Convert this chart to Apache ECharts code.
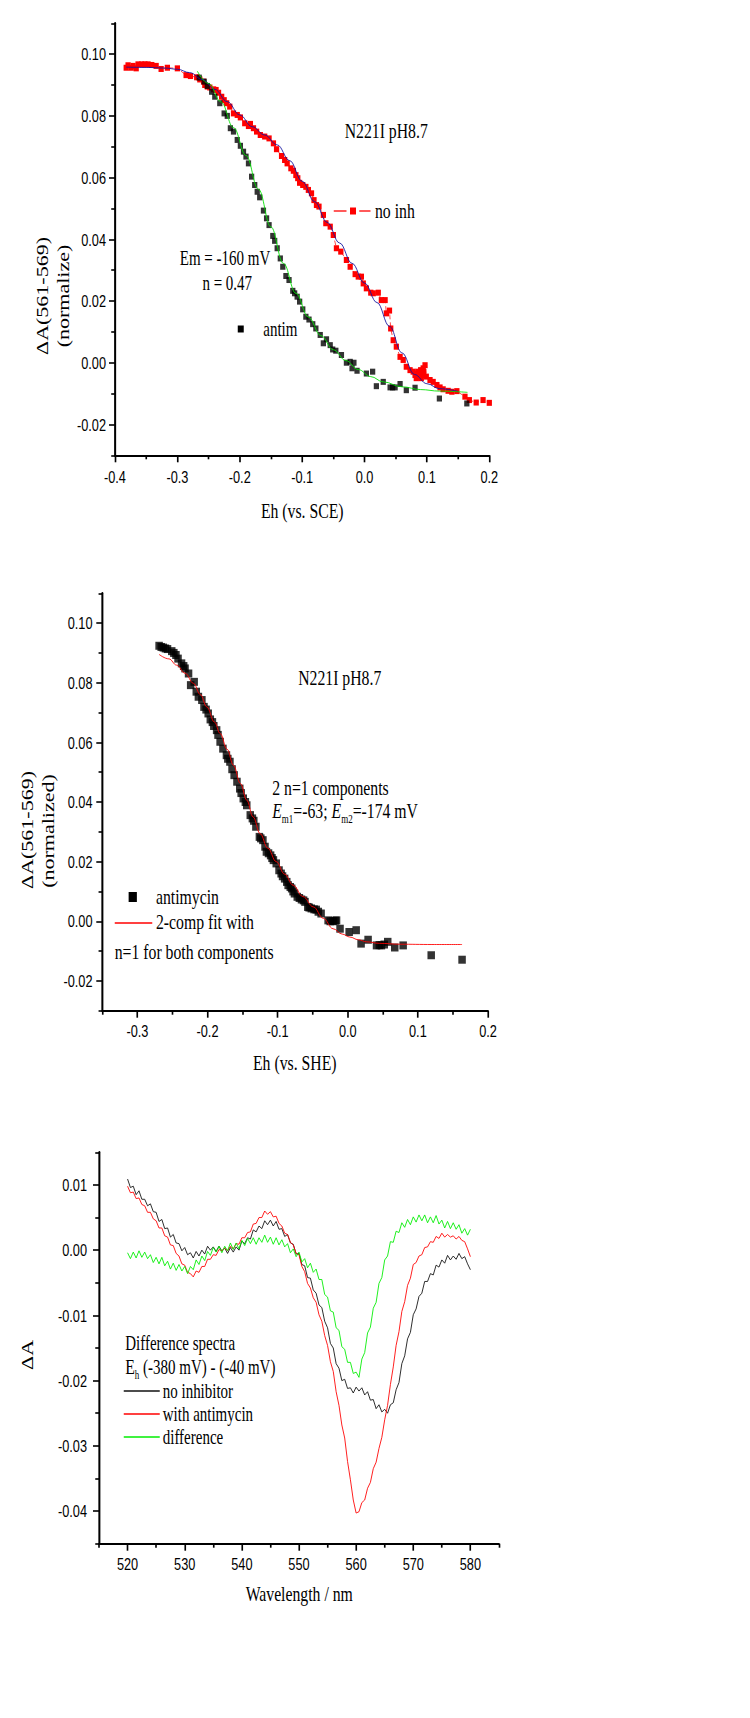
<!DOCTYPE html>
<html><head><meta charset="utf-8">
<script src="https://cdn.jsdelivr.net/npm/echarts@6/dist/echarts.min.js"></script>
<style>
html,body{margin:0;padding:0;overflow:hidden;background:#fff;width:750px;height:1718px;}
#wrap{width:750px;height:1718px;overflow:hidden;position:relative;background:#fff;}
#chart{width:1000px;height:1718px;transform:scaleX(0.75);transform-origin:0 0;position:absolute;left:0;top:0;}
</style></head><body><div id="wrap"><div id="chart"></div></div>
<script>
// ---------- Panel 1 : Eh (vs. SCE) ----------
const p1XTicks = [-0.4,-0.3,-0.2,-0.1,0,0.1,0.2];
const p1XMinor = [-0.35,-0.25,-0.15,-0.05,0.05,0.15];
const p1YTicks = [-0.02,0,0.02,0.04,0.06,0.08,0.10];
const p1YMinor = [-0.03,-0.01,0.01,0.03,0.05,0.07,0.09,0.11];

const noInhPoints = [[-0.382,0.0956],[-0.379,0.0964],[-0.374,0.0956],[-0.371,0.0962],[-0.366,0.0954],[-0.363,0.0967],[-0.357,0.0967],[-0.352,0.0967],[-0.347,0.0967],[-0.341,0.0965],[-0.334,0.0962],[-0.326,0.0952],[-0.316,0.0956],[-0.300,0.0954],[-0.286,0.0932],[-0.279,0.0929],[-0.269,0.0925],[-0.264,0.0918],[-0.258,0.0911],[-0.256,0.0900],[-0.252,0.0895],[-0.248,0.0892],[-0.242,0.0886],[-0.238,0.0884],[-0.234,0.0875],[-0.229,0.0862],[-0.225,0.0851],[-0.221,0.0841],[-0.216,0.0830],[-0.210,0.0808],[-0.204,0.0803],[-0.199,0.0795],[-0.192,0.0776],[-0.186,0.0767],[-0.183,0.0774],[-0.178,0.0760],[-0.173,0.0749],[-0.167,0.0738],[-0.160,0.0733],[-0.153,0.0727],[-0.146,0.0711],[-0.141,0.0692],[-0.133,0.0670],[-0.128,0.0657],[-0.124,0.0646],[-0.118,0.0630],[-0.114,0.0622],[-0.110,0.0608],[-0.107,0.0598],[-0.104,0.0583],[-0.099,0.0576],[-0.094,0.0570],[-0.090,0.0560],[-0.085,0.0549],[-0.081,0.0527],[-0.077,0.0511],[-0.073,0.0506],[-0.066,0.0479],[-0.062,0.0452],[-0.055,0.0441],[-0.050,0.0414],[-0.045,0.0371],[-0.038,0.0360],[-0.029,0.0333],[-0.023,0.0311],[-0.015,0.0287],[-0.010,0.0279],[-0.005,0.0279],[-0.002,0.0257],[0.003,0.0241],[0.010,0.0227],[0.014,0.0225],[0.022,0.0227],[0.027,0.0203],[0.033,0.0203],[0.035,0.0160],[0.040,0.0169],[0.042,0.0111],[0.046,0.0073],[0.051,0.0052],[0.057,0.0019],[0.062,0.0009],[0.067,-0.0013],[0.073,-0.0024],[0.078,-0.0029],[0.081,-0.0040],[0.083,-0.0050],[0.084,-0.0035],[0.086,-0.0029],[0.088,-0.0045],[0.090,-0.0024],[0.091,-0.0050],[0.092,-0.0040],[0.094,-0.0018],[0.095,-0.0030],[0.097,-0.0008],[0.099,-0.0045],[0.105,-0.0056],[0.110,-0.0062],[0.116,-0.0072],[0.121,-0.0080],[0.126,-0.0086],[0.134,-0.0091],[0.140,-0.0094],[0.148,-0.0092],[0.161,-0.0110],[0.168,-0.0121],[0.179,-0.0129],[0.190,-0.0121],[0.200,-0.0130]];

const noInhFit = [[-0.382,0.0958],[-0.35,0.0957],[-0.32,0.0955],[-0.30,0.0951],[-0.28,0.0940],[-0.26,0.0918],[-0.24,0.0886],[-0.22,0.0846],[-0.20,0.0803],[-0.18,0.0765],[-0.16,0.0738],[-0.14,0.0706],[-0.12,0.0655],[-0.10,0.0588],[-0.08,0.0522],[-0.06,0.0455],[-0.04,0.0388],[-0.02,0.0322],[0.00,0.0258],[0.02,0.0195],[0.04,0.0118],[0.06,0.0032],[0.08,-0.0038],[0.10,-0.0068],[0.12,-0.0084],[0.15,-0.0093]];

const antimPoints1 = [[-0.265,0.0924],[-0.257,0.0911],[-0.252,0.0897],[-0.245,0.0878],[-0.240,0.0862],[-0.232,0.0841],[-0.225,0.0808],[-0.220,0.0800],[-0.215,0.0760],[-0.210,0.0749],[-0.204,0.0722],[-0.199,0.0703],[-0.194,0.0684],[-0.190,0.0668],[-0.186,0.0646],[-0.181,0.0603],[-0.176,0.0576],[-0.172,0.0554],[-0.168,0.0536],[-0.162,0.0493],[-0.157,0.0468],[-0.153,0.0446],[-0.147,0.0411],[-0.144,0.0395],[-0.140,0.0371],[-0.135,0.0338],[-0.131,0.0311],[-0.126,0.0281],[-0.121,0.0268],[-0.115,0.0233],[-0.112,0.0225],[-0.108,0.0214],[-0.104,0.0198],[-0.099,0.0173],[-0.094,0.0149],[-0.089,0.0140],[-0.083,0.0125],[-0.078,0.0111],[-0.071,0.0090],[-0.066,0.0063],[-0.061,0.0076],[-0.055,0.0057],[-0.051,0.0043],[-0.046,0.0039],[-0.037,0.0025],[-0.029,0.0000],[-0.023,0.0003],[-0.017,0.0000],[-0.020,-0.0018],[-0.012,-0.0026],[0.003,-0.0035],[0.013,-0.0029],[0.019,-0.0076],[0.030,-0.0062],[0.041,-0.0080],[0.045,-0.0080],[0.049,-0.0080],[0.057,-0.0069],[0.067,-0.0089],[0.081,-0.0081],[0.120,-0.0116],[0.164,-0.0132]];

const antimFit1 = [[-0.268,0.0945],[-0.25,0.0905],[-0.23,0.0845],[-0.21,0.0762],[-0.19,0.0672],[-0.17,0.0562],[-0.15,0.0440],[-0.13,0.0322],[-0.11,0.0225],[-0.09,0.0148],[-0.07,0.0088],[-0.05,0.0042],[-0.03,0.0007],[-0.01,-0.0022],[0.01,-0.0045],[0.03,-0.0062],[0.06,-0.0078],[0.09,-0.0087],[0.12,-0.0092],[0.165,-0.0096]];

// ---------- Panel 2 : Eh (vs. SHE) ----------
const p2XTicks = [-0.3,-0.2,-0.1,0,0.1,0.2];
const p2XMinor = [-0.35,-0.25,-0.15,-0.05,0.05,0.15];
const p2YTicks = [-0.02,0,0.02,0.04,0.06,0.08,0.10];
const p2YMinor = [-0.03,-0.01,0.01,0.03,0.05,0.07,0.09,0.11];

const antimPoints2 = [[-0.269,0.0924],[-0.266,0.0920],[-0.263,0.0918],[-0.260,0.0915],[-0.257,0.0913],[-0.251,0.0906],[-0.248,0.0900],[-0.245,0.0893],[-0.242,0.0881],[-0.237,0.0865],[-0.234,0.0856],[-0.232,0.0848],[-0.227,0.0831],[-0.224,0.0792],[-0.219,0.0803],[-0.216,0.0770],[-0.213,0.0753],[-0.208,0.0742],[-0.205,0.0719],[-0.202,0.0710],[-0.199,0.0697],[-0.196,0.0677],[-0.193,0.0668],[-0.191,0.0655],[-0.187,0.0641],[-0.185,0.0625],[-0.182,0.0602],[-0.178,0.0579],[-0.173,0.0557],[-0.171,0.0545],[-0.168,0.0535],[-0.165,0.0510],[-0.162,0.0490],[-0.158,0.0468],[-0.154,0.0445],[-0.152,0.0430],[-0.149,0.0412],[-0.146,0.0400],[-0.144,0.0389],[-0.139,0.0356],[-0.136,0.0345],[-0.134,0.0337],[-0.131,0.0317],[-0.126,0.0283],[-0.124,0.0278],[-0.121,0.0272],[-0.118,0.0250],[-0.116,0.0233],[-0.113,0.0228],[-0.110,0.0221],[-0.108,0.0212],[-0.106,0.0205],[-0.102,0.0194],[-0.098,0.0171],[-0.095,0.0160],[-0.093,0.0151],[-0.090,0.0143],[-0.087,0.0132],[-0.085,0.0121],[-0.082,0.0115],[-0.080,0.0110],[-0.078,0.0100],[-0.076,0.0093],[-0.072,0.0082],[-0.069,0.0078],[-0.066,0.0073],[-0.063,0.0070],[-0.061,0.0065],[-0.057,0.0048],[-0.055,0.0046],[-0.052,0.0043],[-0.048,0.0040],[-0.045,0.0039],[-0.042,0.0032],[-0.038,0.0026],[-0.028,0.0003],[-0.025,0.0000],[-0.021,0.0000],[-0.018,0.0002],[-0.016,0.0003],[-0.011,-0.0025],[0.002,-0.0036],[0.012,-0.0030],[0.019,-0.0075],[0.029,-0.0062],[0.041,-0.0081],[0.045,-0.0080],[0.048,-0.0081],[0.052,-0.0078],[0.057,-0.0069],[0.067,-0.0088],[0.079,-0.0081],[0.119,-0.0114],[0.163,-0.0129]];

const fit2 = [[-0.269,0.0895],[-0.255,0.0880],[-0.244,0.0859],[-0.232,0.0832],[-0.220,0.0798],[-0.210,0.0760],[-0.201,0.0719],[-0.190,0.0668],[-0.182,0.0630],[-0.172,0.0577],[-0.163,0.0523],[-0.153,0.0462],[-0.144,0.0406],[-0.135,0.0350],[-0.125,0.0294],[-0.114,0.0245],[-0.102,0.0200],[-0.090,0.0158],[-0.078,0.0121],[-0.064,0.0083],[-0.049,0.0048],[-0.035,0.0010],[-0.021,-0.0025],[-0.008,-0.0043],[0.003,-0.0053],[0.015,-0.0062],[0.027,-0.0069],[0.045,-0.0074],[0.074,-0.0077],[0.120,-0.0078],[0.163,-0.0078]];

// ---------- Panel 3 : difference spectra ----------
const p3XTicks = [520,530,540,550,560,570,580];
const p3XMinor = [515,525,535,545,555,565,575,585];
const p3YTicks = [-0.04,-0.03,-0.02,-0.01,0,0.01];
const p3YMinor = [-0.045,-0.035,-0.025,-0.015,-0.005,0.005,0.015];

const wavelengths = [520,520.5,521,521.5,522,522.5,523,523.5,524,524.5,525,525.5,526,526.5,527,527.5,528,528.5,529,529.5,530,530.5,531,531.5,532,532.5,533,533.5,534,534.5,535,535.5,536,536.5,537,537.5,538,538.5,539,539.5,540,540.5,541,541.5,542,542.5,543,543.5,544,544.5,545,545.5,546,546.5,547,547.5,548,548.5,549,549.5,550,550.5,551,551.5,552,552.5,553,553.5,554,554.5,555,555.5,556,556.5,557,557.5,558,558.5,559,559.5,560,560.5,561,561.5,562,562.5,563,563.5,564,564.5,565,565.5,566,566.5,567,567.5,568,568.5,569,569.5,570,570.5,571,571.5,572,572.5,573,573.5,574,574.5,575,575.5,576,576.5,577,577.5,578,578.5,579,579.5,580];

const specNoInhibitor = [0.0109,0.0096,0.0098,0.0085,0.0091,0.0078,0.0078,0.0068,0.0071,0.0059,0.0058,0.0044,
 0.0047,0.0033,0.0034,0.0020,0.0024,0.0011,0.0010,-0.0001,0.0004,-0.0007,-0.0004,-0.0012,
 -0.0002,-0.0009,0.0000,-0.0006,0.0006,0.0000,0.0005,-0.0002,0.0006,-0.0001,0.0003,-0.0005,
 0.0004,-0.0003,0.0005,0.0000,0.0014,0.0010,0.0019,0.0017,0.0031,0.0028,0.0037,0.0033,
 0.0045,0.0039,0.0046,0.0037,0.0044,0.0032,0.0033,0.0021,0.0024,0.0011,0.0009,-0.0006,
 -0.0005,-0.0022,-0.0024,-0.0042,-0.0043,-0.0061,-0.0066,-0.0084,-0.0088,-0.0109,-0.0119,-0.0143,
 -0.0150,-0.0174,-0.0181,-0.0200,-0.0198,-0.0212,-0.0211,-0.0219,-0.0210,-0.0216,-0.0211,-0.0222,
 -0.0217,-0.0230,-0.0229,-0.0243,-0.0237,-0.0248,-0.0244,-0.0250,-0.0237,-0.0234,-0.0214,-0.0203,
 -0.0174,-0.0162,-0.0136,-0.0126,-0.0099,-0.0090,-0.0071,-0.0066,-0.0048,-0.0048,-0.0036,-0.0038,
 -0.0023,-0.0026,-0.0015,-0.0020,-0.0008,-0.0015,-0.0009,-0.0014,-0.0005,-0.0013,-0.0010,-0.0021,
 -0.0030];

const specAntimycin = [0.0098,0.0088,0.0089,0.0079,0.0080,0.0070,0.0068,0.0058,0.0058,0.0048,0.0045,0.0034,
 0.0034,0.0022,0.0020,0.0008,0.0007,-0.0005,-0.0009,-0.0021,-0.0023,-0.0034,-0.0036,-0.0041,
 -0.0032,-0.0034,-0.0025,-0.0025,-0.0014,-0.0014,-0.0007,-0.0008,0.0001,-0.0001,0.0003,-0.0001,
 0.0006,0.0002,0.0010,0.0009,0.0019,0.0019,0.0027,0.0028,0.0040,0.0041,0.0050,0.0050,
 0.0060,0.0055,0.0059,0.0051,0.0052,0.0041,0.0037,0.0026,0.0024,0.0012,0.0008,-0.0005,
 -0.0007,-0.0025,-0.0033,-0.0051,-0.0058,-0.0073,-0.0080,-0.0099,-0.0109,-0.0131,-0.0146,-0.0171,
 -0.0186,-0.0217,-0.0238,-0.0268,-0.0288,-0.0324,-0.0352,-0.0383,-0.0403,-0.0401,-0.0387,-0.0383,
 -0.0365,-0.0356,-0.0335,-0.0325,-0.0304,-0.0287,-0.0260,-0.0238,-0.0206,-0.0179,-0.0146,-0.0125,
 -0.0094,-0.0079,-0.0054,-0.0043,-0.0022,-0.0019,-0.0009,-0.0007,0.0004,0.0005,0.0013,0.0012,
 0.0021,0.0018,0.0026,0.0020,0.0024,0.0020,0.0022,0.0017,0.0021,0.0015,0.0013,0.0002,
 -0.0010];

const specDifference = [-0.0004,-0.0013,-0.0003,-0.0012,-0.0001,-0.0011,-0.0003,-0.0013,-0.0007,-0.0019,-0.0011,-0.0021,
 -0.0011,-0.0024,-0.0017,-0.0029,-0.0020,-0.0031,-0.0022,-0.0032,-0.0025,-0.0036,-0.0025,-0.0030,
 -0.0015,-0.0022,-0.0009,-0.0016,-0.0002,-0.0008,0.0004,-0.0003,0.0006,-0.0004,0.0006,-0.0001,
 0.0011,0.0001,0.0011,0.0002,0.0015,0.0007,0.0018,0.0010,0.0019,0.0009,0.0019,0.0012,
 0.0023,0.0012,0.0020,0.0009,0.0019,0.0008,0.0016,0.0005,0.0010,-0.0004,0.0002,-0.0010,
 -0.0003,-0.0018,-0.0013,-0.0027,-0.0020,-0.0034,-0.0029,-0.0045,-0.0045,-0.0068,-0.0072,-0.0093,
 -0.0095,-0.0119,-0.0123,-0.0148,-0.0152,-0.0172,-0.0172,-0.0189,-0.0187,-0.0195,-0.0167,-0.0157,
 -0.0127,-0.0118,-0.0089,-0.0080,-0.0051,-0.0042,-0.0015,-0.0009,0.0013,0.0012,0.0029,0.0027,
 0.0042,0.0035,0.0047,0.0039,0.0051,0.0043,0.0054,0.0045,0.0054,0.0042,0.0051,0.0042,
 0.0053,0.0040,0.0046,0.0034,0.0044,0.0033,0.0042,0.0032,0.0039,0.0026,0.0033,0.0023,
 0.0032];

// ---------- build ----------
const SERIF = '"Liberation Serif","Times New Roman",serif';
const SANS = '"Liberation Sans",Arial,sans-serif';

function fmtFixed(d){ return function(v){ if (Math.abs(v) < 1e-9) v = 0; return v.toFixed(d); }; }

function xAxesFor(g, min, max, majors, minors, fmt, margin){
  return [
    {type:'value', gridIndex:g, min:min, max:max, position:'bottom',
     axisLine:{show:true, onZero:false, lineStyle:{color:'#000', width:2}},
     axisTick:{show:true, inside:false, length:7, customValues:majors, lineStyle:{color:'#000', width:2.2}},
     axisLabel:{show:true, customValues:majors, formatter:fmt, margin:margin, fontFamily:SANS, fontSize:17, color:'#000'},
     splitLine:{show:false}, minorTick:{show:false}},
    {type:'value', gridIndex:g, min:min, max:max, position:'bottom',
     axisLine:{show:false, onZero:false},
     axisTick:{show:true, inside:false, length:4, customValues:minors, lineStyle:{color:'#000', width:2.2}},
     axisLabel:{show:false}, splitLine:{show:false}}
  ];
}
function yAxesFor(g, min, max, majors, minors, fmt, margin){
  return [
    {type:'value', gridIndex:g, min:min, max:max, position:'left',
     axisLine:{show:true, onZero:false, lineStyle:{color:'#000', width:2.7}},
     axisTick:{show:true, inside:false, length:8, customValues:majors, lineStyle:{color:'#000', width:1.6}},
     axisLabel:{show:true, customValues:majors, formatter:fmt, margin:margin, fontFamily:SANS, fontSize:17, color:'#000'},
     splitLine:{show:false}, minorTick:{show:false}},
    {type:'value', gridIndex:g, min:min, max:max, position:'left',
     axisLine:{show:false, onZero:false},
     axisTick:{show:true, inside:false, length:5, customValues:minors, lineStyle:{color:'#000', width:1.6}},
     axisLabel:{show:false}, splitLine:{show:false}}
  ];
}

function txt(x, y, text, size, align, extra, rich){
  const st = {text:text, fontSize:size, fontFamily:SERIF, fill:'#000',
    align:align||'left', verticalAlign:'middle', textAlign:align||'left', textVerticalAlign:'middle'};
  if (rich) st.rich = rich;
  return Object.assign({type:'text', x:x, y:y, z:100, silent:true, style:st}, extra||{});
}
function rect(cx, cy, w, h, fill){
  return {type:'rect', z:100, silent:true, shape:{x:cx-w/2, y:cy-h/2, width:w, height:h}, style:{fill:fill}};
}
function seg(x1, x2, y, stroke, dash){
  const s = {stroke:stroke, lineWidth:1.3};
  if (dash) s.lineDash = dash;
  return {type:'line', z:100, silent:true, shape:{x1:x1, y1:y, x2:x2, y2:y}, style:s};
}
const ROT = {rotation: Math.PI/2};
const subRich = {
  it:{fontStyle:'italic', fontSize:21, fontFamily:SERIF, fill:'#000'},
  n:{fontSize:21, fontFamily:SERIF, fill:'#000'},
  s:{fontSize:12, fontFamily:SERIF, fill:'#000', padding:[16,0,0,0]}
};

const zip = (xs, ys) => xs.map((x, i) => [x, ys[i]]);

const option = {
  animation:false,
  backgroundColor:'#fff',
  grid:[
    {left:153.3, top:23.3, width:499.1, height:432, outerBoundsMode:'none', containLabel:false},
    {left:136.4, top:593.3, width:514.3, height:417.4, outerBoundsMode:'none', containLabel:false},
    {left:132, top:1152.3, width:533.3, height:391.4, outerBoundsMode:'none', containLabel:false}
  ],
  xAxis: [].concat(
    xAxesFor(0, -0.4, 0.2, p1XTicks, p1XMinor, fmtFixed(1), 13),
    xAxesFor(1, -0.35, 0.2, p2XTicks, p2XMinor, fmtFixed(1), 12),
    xAxesFor(2, 515, 585, p3XTicks, p3XMinor, fmtFixed(0), 12)
  ),
  yAxis: [].concat(
    yAxesFor(0, -0.03, 0.11, p1YTicks, p1YMinor, fmtFixed(2), 12),
    yAxesFor(1, -0.03, 0.11, p2YTicks, p2YMinor, fmtFixed(2), 13),
    yAxesFor(2, -0.045, 0.015, p3YTicks, p3YMinor, fmtFixed(2), 16)
  ),
  series:[
    {type:'line', name:'no inh', xAxisIndex:0, yAxisIndex:0, data:noInhPoints,
     symbol:'rect', symbolSize:[7,6], showSymbol:true, itemStyle:{color:'#ff0000'},
     lineStyle:{color:'#ff3030', width:1, type:[5,3]}, z:2},
    {type:'scatter', name:'antim', xAxisIndex:0, yAxisIndex:0, data:antimPoints1,
     symbol:'rect', symbolSize:[7,6], itemStyle:{color:'#000'}, z:2},
    {type:'line', name:'fit no inh', xAxisIndex:0, yAxisIndex:0, data:noInhFit,
     smooth:0.4, smoothMonotone:'x', symbol:'none', lineStyle:{color:'#1414a0', width:1}, z:3},
    {type:'line', name:'fit antim', xAxisIndex:0, yAxisIndex:0, data:antimFit1,
     smooth:0.4, smoothMonotone:'x', symbol:'none', lineStyle:{color:'#00e000', width:1}, z:3},

    {type:'scatter', name:'antimycin', xAxisIndex:2, yAxisIndex:2, data:antimPoints2,
     symbol:'rect', symbolSize:[10,8], itemStyle:{color:'#000'}, z:2},
    {type:'line', name:'2-comp fit', xAxisIndex:2, yAxisIndex:2, data:fit2,
     smooth:0.4, smoothMonotone:'x', symbol:'none', lineStyle:{color:'#ff0000', width:1}, z:3},

    {type:'line', name:'no inhibitor', xAxisIndex:4, yAxisIndex:4, data:zip(wavelengths, specNoInhibitor),
     symbol:'none', lineStyle:{color:'#111', width:1}, z:2},
    {type:'line', name:'with antimycin', xAxisIndex:4, yAxisIndex:4, data:zip(wavelengths, specAntimycin),
     symbol:'none', lineStyle:{color:'#ff0000', width:1}, z:3},
    {type:'line', name:'difference', xAxisIndex:4, yAxisIndex:4, data:zip(wavelengths, specDifference),
     symbol:'none', lineStyle:{color:'#00ee00', width:1}, z:4}
  ],
  graphic:[
    // panel 1
    txt(57, 296, '\u0394A(561-569)', 22, 'center', ROT),
    txt(85, 296, '(normalize)', 22, 'center', ROT),
    txt(403, 511, 'Eh (vs. SCE)', 21, 'center'),
    txt(515, 131, 'N221I pH8.7', 21, 'center'),
    seg(445, 462, 211, '#ff0000'),
    seg(479, 494, 211, '#ff0000'),
    rect(470.7, 211, 8, 7, '#ff0000'),
    txt(500, 211, 'no inh', 21, 'left'),
    txt(300, 258, 'Em = -160 mV', 20, 'center'),
    txt(303, 283, 'n = 0.47', 20, 'center'),
    rect(321, 329, 8, 7, '#000'),
    txt(351, 329, 'antim', 20, 'left'),
    // panel 2
    txt(36, 830, '\u0394A(561-569)', 22, 'center', ROT),
    txt(65, 831, '(normalized)', 22, 'center', ROT),
    txt(393, 1063, 'Eh (vs. SHE)', 21, 'center'),
    txt(453, 678, 'N221I pH8.7', 21, 'center'),
    txt(363, 788, '2 n=1 components', 21, 'left'),
    txt(363, 811, '{it|E}{s|m1}=-63; {it|E}{s|m2}=-174 mV', 21, 'left', null, subRich),
    rect(177, 897, 11, 10, '#000'),
    txt(208, 897, 'antimycin', 21, 'left'),
    seg(153, 203, 923, '#ff0000'),
    txt(208, 922, '2-comp fit with', 21, 'left'),
    txt(153, 952, 'n=1 for both components', 21, 'left'),
    // panel 3
    txt(37, 1355, '\u0394A', 22, 'center', ROT),
    txt(399, 1594, 'Wavelength / nm', 21, 'center'),
    txt(167, 1343, 'Difference spectra', 20, 'left'),
    txt(167, 1367, '{n|E}{s|h} (-380 mV) - (-40 mV)', 20, 'left', null, subRich),
    seg(165, 213, 1391, '#111'),
    txt(217, 1391, 'no inhibitor', 20, 'left'),
    seg(165, 213, 1414, '#ff0000'),
    txt(217, 1414, 'with antimycin', 20, 'left'),
    seg(165, 213, 1437, '#00ee00'),
    txt(217, 1437, 'difference', 20, 'left')
  ]
};

const chart = echarts.init(document.getElementById('chart'), null, {renderer:'svg', width:1000, height:1718});
chart.setOption(option);
</script></body></html>
